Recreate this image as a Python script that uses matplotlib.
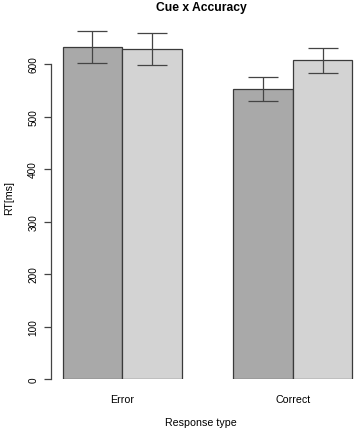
import matplotlib
matplotlib.use("Agg")
import matplotlib.pyplot as plt
import numpy as np

# values
categories = ["Error", "Correct"]
rt_dark = [632, 552]
rt_light = [629, 607]
err_dark = [30, 23]
err_light = [30, 24]
yticks = [0, 100, 200, 300, 400, 500, 600]

plt.rcParams['font.family'] = ['Liberation Sans', 'DejaVu Sans']

W, H = 355, 431
fig = plt.figure(figsize=(W / 100, H / 100), dpi=100)

# axes box in pixel terms: left at the y axis line, bottom at value 0
left_px, right_px, bottom_px, top_px = 50.7, 355, 380, 25
ax = fig.add_axes([left_px / W, (H - bottom_px) / H,
                   (right_px - left_px) / W, (bottom_px - top_px) / H])

bar_w = 1.0
group_start = np.array([0.0, 2.87])
x_dark = group_start + bar_w / 2
x_light = group_start + 1.5 * bar_w

ax.bar(x_dark, rt_dark, width=bar_w, color='#a9a9a9', edgecolor='#3a3a3a', linewidth=0.9)
ax.bar(x_light, rt_light, width=bar_w, color='#d3d3d3', edgecolor='#3a3a3a', linewidth=0.9)
ax.errorbar(x_dark, rt_dark, yerr=err_dark, fmt='none', ecolor='#444444',
            elinewidth=0.9, capsize=11, capthick=0.9)
ax.errorbar(x_light, rt_light, yerr=err_light, fmt='none', ecolor='#444444',
            elinewidth=0.9, capsize=11, capthick=0.9)

px_per_unit = 59.5
ax.set_xlim(-(62.7 - left_px) / px_per_unit, (right_px - 62.7) / px_per_unit)
ax.set_ylim(0, (bottom_px - top_px) / 0.525)

for s in ['top', 'right', 'bottom']:
    ax.spines[s].set_visible(False)
ax.spines['left'].set_bounds(0, 600)
ax.spines['left'].set_color('#444444')
ax.spines['left'].set_linewidth(0.9)
ax.set_yticks(yticks)
ax.set_yticklabels([str(v) for v in yticks], rotation=90, va='center', fontsize=7.2)
ax.tick_params(axis='y', length=5, width=0.9, color='#444444', pad=4)
ax.set_xticks([])

centers = group_start + bar_w
for c, lab in zip(centers, categories):
    ax.text(c, 0, lab, transform=ax.get_xaxis_transform(), ha='center', va='center',
            fontsize=7.7).set_position((c, -20 / (bottom_px - top_px)))

fig.text(201 / W, 1 - 423 / H, "Response type", ha='center', va='center', fontsize=7.7)
fig.text(9 / W, 1 - 198 / H, "RT[ms]", rotation=90, ha='center', va='center', fontsize=7.7)
fig.text(201 / W, 1 - 8 / H, "Cue x Accuracy", ha='center', va='center',
         fontsize=8.7, fontweight='bold')

fig.savefig("out.png", dpi=100)
